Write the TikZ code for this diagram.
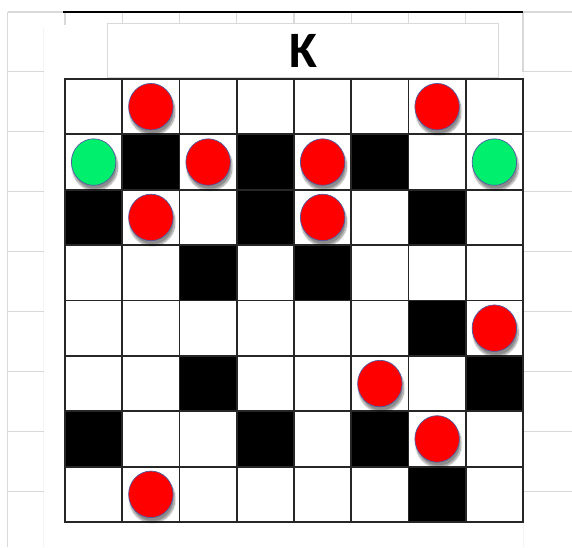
\documentclass[tikz,border=0pt]{standalone}
\usepackage{fontspec}
\newfontfamily\titlefont{Carlito}
\usetikzlibrary{
    shapes.geometric,
    shadows.blur
}
\definecolor{pieceedge}{RGB}{80,90,160}
\definecolor{piecered}{RGB}{255,0,0}
\definecolor{piecegreen}{RGB}{0,240,110}
\definecolor{sheetgrey}{RGB}{217,217,217}
\definecolor{faintgrey}{RGB}{244,244,244}
\tikzstyle{sheet} = [
    draw=sheetgrey,
    line width=1.2pt
]
\tikzstyle{faint} = [
    draw=faintgrey,
    line width=1pt
]
\tikzstyle{titlebox} = [
    rectangle,
    draw=sheetgrey,
    fill=white,
    line width=1pt,
    minimum width=391pt,
    minimum height=54pt,
    inner sep=0pt
]
\tikzstyle{gridline} = [
    draw=black!85,
    line width=1.8pt,
    line cap=rect
]
\tikzstyle{piece} = [
    ellipse,
    draw=pieceedge,
    line width=0.7pt,
    minimum width=44.5pt,
    minimum height=46.5pt,
    inner sep=0pt,
    blur shadow={shadow xshift=1.5pt, shadow yshift=-4.5pt, shadow blur steps=10, shadow blur extra rounding=2pt, shadow opacity=45}
]
\tikzstyle{redpiece} = [piece, fill=piecered]
\tikzstyle{greenpiece} = [piece, fill=piecegreen]

\begin{document}
\begin{tikzpicture}[x=1pt, y=-1pt]
        \useasboundingbox (0,0) rectangle (572,547);

        % Spreadsheet behind the board
        \draw[faint] (43.5,28) -- (43.5,547);
        \draw[faint] (523,71.7) -- (523,547);
        \draw[sheet] (7.5,12) -- (572,12);
        \draw[sheet] (7.5,12) -- (7.5,547);
        \draw[sheet] (523,12) -- (523,71.7);
        \foreach \y in {71.7,131.7,191.7,251.7,311.5,371.5,431.5,491.5} {
            \draw[sheet] (7.5,\y) -- (43.5,\y);
            \draw[sheet] (523,\y) -- (572,\y);
        }
        \foreach \i in {0,...,8}
            \draw[sheet] ({65+57.25*\i},12) -- ({65+57.25*\i},25);

        % Title
        \node[titlebox] (title) at (302.5,50) {};
        \node[font=\titlefont\bfseries\fontsize{51}{51}\selectfont] (k) at (303.5,51) {K};
        \draw[black, line width=1.3pt] (63,12) -- (523,12);

        % Black cells
        \foreach \c/\r in {2/2,4/2,6/2,1/3,4/3,7/3,3/4,5/4,7/5,3/6,8/6,1/7,4/7,6/7,7/8}
            \fill[black] ({65+57.25*(\c-1)},{79+55.375*(\r-1)}) rectangle +(57.25,55.375);

        % Board lines
        \foreach \i in {0,...,8} {
            \draw[gridline] ({65+57.25*\i},79) -- ({65+57.25*\i},522);
            \draw[gridline] (65,{79+55.375*\i}) -- (523,{79+55.375*\i});
        }

        % Pieces
        \foreach \c/\r in {2/1,7/1,3/2,5/2,2/3,5/3,8/5,6/6,7/7,2/8}
            \node[redpiece] (red\c\r) at ({65+57.25*(\c-0.5)},{79+55.375*(\r-0.5)}) {};
        \foreach \c/\r in {1/2,8/2}
            \node[greenpiece] (green\c\r) at ({65+57.25*(\c-0.5)},{79+55.375*(\r-0.5)}) {};
    \end{tikzpicture}
\end{document}
